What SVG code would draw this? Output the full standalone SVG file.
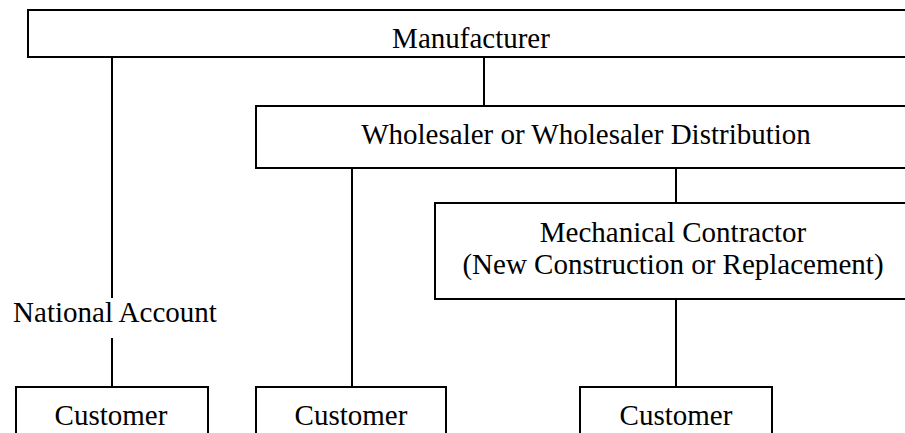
<svg xmlns="http://www.w3.org/2000/svg" width="905" height="433" viewBox="0 0 905 433">
<style>
.box{fill:#fff;stroke:#000;stroke-width:2}
.ln{stroke:#000;stroke-width:2;fill:none}
text{font-family:"Liberation Serif","Times New Roman",serif;font-size:29px;fill:#000;text-anchor:middle}
</style>
<rect x="0" y="0" width="905" height="433" fill="#fff"/>
<g id="connectors">
<line class="ln" x1="112" y1="57" x2="112" y2="298"/>
<line class="ln" x1="112" y1="338" x2="112" y2="387"/>
<line class="ln" x1="484" y1="57" x2="484" y2="106"/>
<line class="ln" x1="352" y1="168" x2="352" y2="387"/>
<line class="ln" x1="676" y1="168" x2="676" y2="203"/>
<line class="ln" x1="676" y1="299" x2="676" y2="387"/>
</g>
<g id="manufacturer">
<rect class="box" x="28" y="10" width="888" height="47"/>
<text x="471" y="48">Manufacturer</text>
</g>
<g id="wholesaler">
<rect class="box" x="256" y="106" width="660" height="62"/>
<text x="586" y="144">Wholesaler or Wholesaler Distribution</text>
</g>
<g id="contractor">
<rect class="box" x="435" y="203" width="480" height="96"/>
<text x="673" y="242">Mechanical Contractor</text>
<text x="673" y="274">(New Construction or Replacement)</text>
</g>
<g id="national-account">
<text x="115" y="322">National Account</text>
</g>
<g id="customer1">
<rect class="box" x="16" y="387" width="192" height="60"/>
<text x="111" y="425">Customer</text>
</g>
<g id="customer2">
<rect class="box" x="256" y="387" width="190" height="60"/>
<text x="351" y="425">Customer</text>
</g>
<g id="customer3">
<rect class="box" x="580" y="387" width="192" height="60"/>
<text x="676" y="425">Customer</text>
</g>
</svg>
